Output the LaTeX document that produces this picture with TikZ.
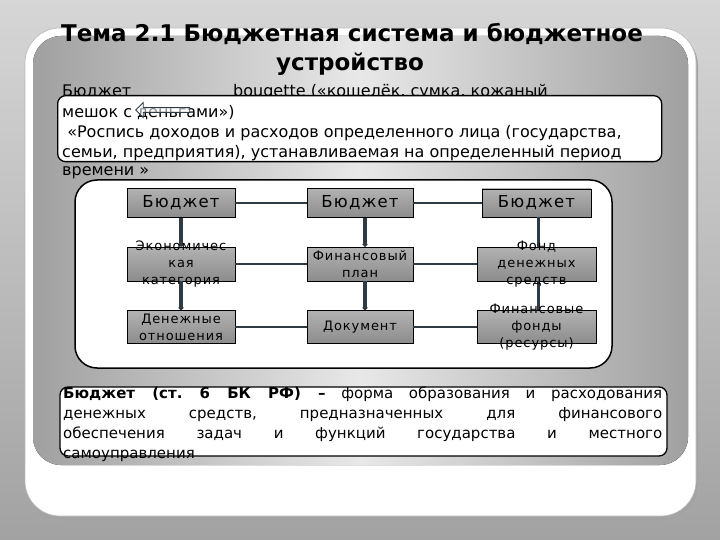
\documentclass[tikz,border=0pt]{standalone}
\usepackage{fontspec}
\setmainfont{DejaVu Sans}
\newfontfamily\lsfont[LetterSpace=7]{DejaVu Sans}
\newfontfamily\lsbigfont[LetterSpace=7]{DejaVu Sans}
\usetikzlibrary{arrows.meta,shapes.arrows}
\definecolor{bgtop}{HTML}{D6D6D6}
\definecolor{bgbot}{HTML}{A2A2A2}
\definecolor{panedge}{HTML}{A0A0A0}
\definecolor{panmid}{HTML}{E8E8E8}
\definecolor{celltop}{HTML}{B2B2B2}
\definecolor{cellbot}{HTML}{8C8C8C}
\definecolor{lnk}{HTML}{2E3B44}
\frenchspacing
\tikzset{
  txt/.style={anchor=base west, inner sep=0pt, font=\fontsize{16}{20}\selectfont},
  cell/.style={draw=black, line width=0.7pt, top color=celltop, bottom color=cellbot, inner sep=0pt},
  lbl/.style={align=center, inner sep=0pt, font=\lsfont\fontsize{13}{17}\selectfont},
  lblbig/.style={align=center, inner sep=0pt, font=\lsbigfont\fontsize{16.5}{18}\selectfont},
  hl/.style={draw=lnk, line width=1.8pt},
  vl/.style={draw=lnk, line width=3.2pt, -{Circle[length=4.5pt,width=4.5pt]}},
  vlp/.style={draw=lnk, line width=3.2pt},
  wbox/.style={draw=black, line width=1.3pt, fill=white, inner sep=0pt},
}
\begin{document}
\begin{tikzpicture}[x=1pt,y=-1pt]
\useasboundingbox (0,0) rectangle (720,540);
% background
\fill[top color=bgtop, bottom color=bgbot] (0,0) rectangle (720,540);
% panel
\fill[gray!72, rounded corners=35] (27,31) rectangle (698,520);
\fill[white, draw=gray!55, line width=0.6pt, rounded corners=35] (25,28) rectangle (696,516);
\fill[left color=panedge, right color=panedge, middle color=panmid, rounded corners=28] (33,36) rectangle (688,465);
% title
\node[anchor=base, inner sep=0pt, font=\bfseries\fontsize{23}{28}\selectfont] (title1) at (352,42) {Тема 2.1 Бюджетная система и бюджетное};
\node[anchor=base, inner sep=0pt, font=\bfseries\fontsize{23}{28}\selectfont] (title2) at (350,71) {устройство};
% first text
\node[txt] (l1a) at (62,97) {Бюджет};
\node[txt] (l1b) at (233,97) {bougette («кошелёк, сумка, кожаный};
\node[wbox, rounded corners=8, minimum width=604pt, minimum height=66pt, anchor=north west] (topbox) at (57,95) {};
\node[txt] (l2) at (62,118) {мешок с деньгами»)};
\node[single arrow, draw=lnk, line width=0.8pt, fill=white, fill opacity=0.55, shape border rotate=180,
      minimum height=54pt, minimum width=15pt, single arrow head extend=3pt, inner sep=1pt] (arr) at (164,110) {};
\node[txt] (l3) at (62,138) {\ «Роспись доходов и расходов определенного лица (государства,};
\node[txt] (l4) at (62,158) {семьи, предприятия), устанавливаемая на определенный период};
\node[txt] (l5) at (62,176) {времени »};
% middle container
\node[wbox, line width=1.5pt, rounded corners=22, minimum width=537pt, minimum height=188pt] (mid) at (343.5,274) {};
% cells
\node[cell, minimum width=108pt, minimum height=29pt] (b1) at (181,203) {};
\node[cell, minimum width=106pt, minimum height=29pt] (b2) at (360,203) {};
\node[cell, minimum width=109pt, minimum height=28pt] (b3) at (536.5,203) {};
\node[cell, minimum width=108pt, minimum height=34pt] (e1) at (181,264) {};
\node[cell, minimum width=106pt, minimum height=34pt] (f2) at (360,264) {};
\node[cell, minimum width=119pt, minimum height=34pt] (f3) at (536.5,264) {};
\node[cell, minimum width=108pt, minimum height=33pt] (d1) at (181,327) {};
\node[cell, minimum width=106pt, minimum height=33pt] (d2) at (360,327) {};
\node[cell, minimum width=119pt, minimum height=33pt] (d3) at (536.5,327) {};
% connectors
\draw[hl] (b1) -- (b2);
\draw[hl] (b2) -- (b3);
\draw[hl] (e1) -- (f2);
\draw[hl] (f2) -- (f3);
\draw[hl] (d1) -- (d2);
\draw[hl] (d2) -- (d3);
\draw[vl] (b1) -- (e1);
\draw[vl] (e1) -- (d1);
\draw[vl] ([xshift=5pt]b2.south) -- ([xshift=5pt]f2.north);
\draw[vl] ([xshift=5pt]f2.south) -- ([xshift=5pt]d2.north);
\draw[vlp] ([xshift=2pt]b3.south) -- ([xshift=2pt]f3.north);
\draw[vlp] ([xshift=2pt]f3.south) -- ([xshift=2pt]d3.north);
% labels
\node[lblbig] (tb1) at (b1) {Бюджет};
\node[lblbig] (tb2) at (b2) {Бюджет};
\node[lblbig] (tb3) at (b3) {Бюджет};
\node[lbl] (te1) at (e1) {Экономичес\\кая\\категория};
\node[lbl] (tf2) at (f2) {Финансовый\\план};
\node[lbl] (tf3) at (f3) {Фонд\\денежных\\средств};
\node[lbl] (td1) at (d1) {Денежные\\отношения};
\node[lbl] (td2) at (d2) {Документ};
\node[lbl] (td3) at (d3) {Финансовые\\фонды\\(ресурсы)};
% bottom box
\node[wbox, rounded corners=8, minimum width=607pt, minimum height=69pt] (botbox) at (363.5,421.5) {};
\begin{scope}[every node/.style={anchor=base west, inner sep=0pt, font=\fontsize{15}{20}\selectfont}]
\node (bl1) at (63,398) {\makebox[599pt][s]{\textbf{Бюджет (ст. 6 БК РФ) –} форма образования и расходования}};
\node (bl2) at (63,418) {\makebox[599pt][s]{денежных средств, предназначенных для финансового}};
\node (bl3) at (63,438) {\makebox[599pt][s]{обеспечения задач и функций государства и местного}};
\node (bl4) at (63,458) {самоуправления};
\end{scope}
\end{tikzpicture}
\end{document}
